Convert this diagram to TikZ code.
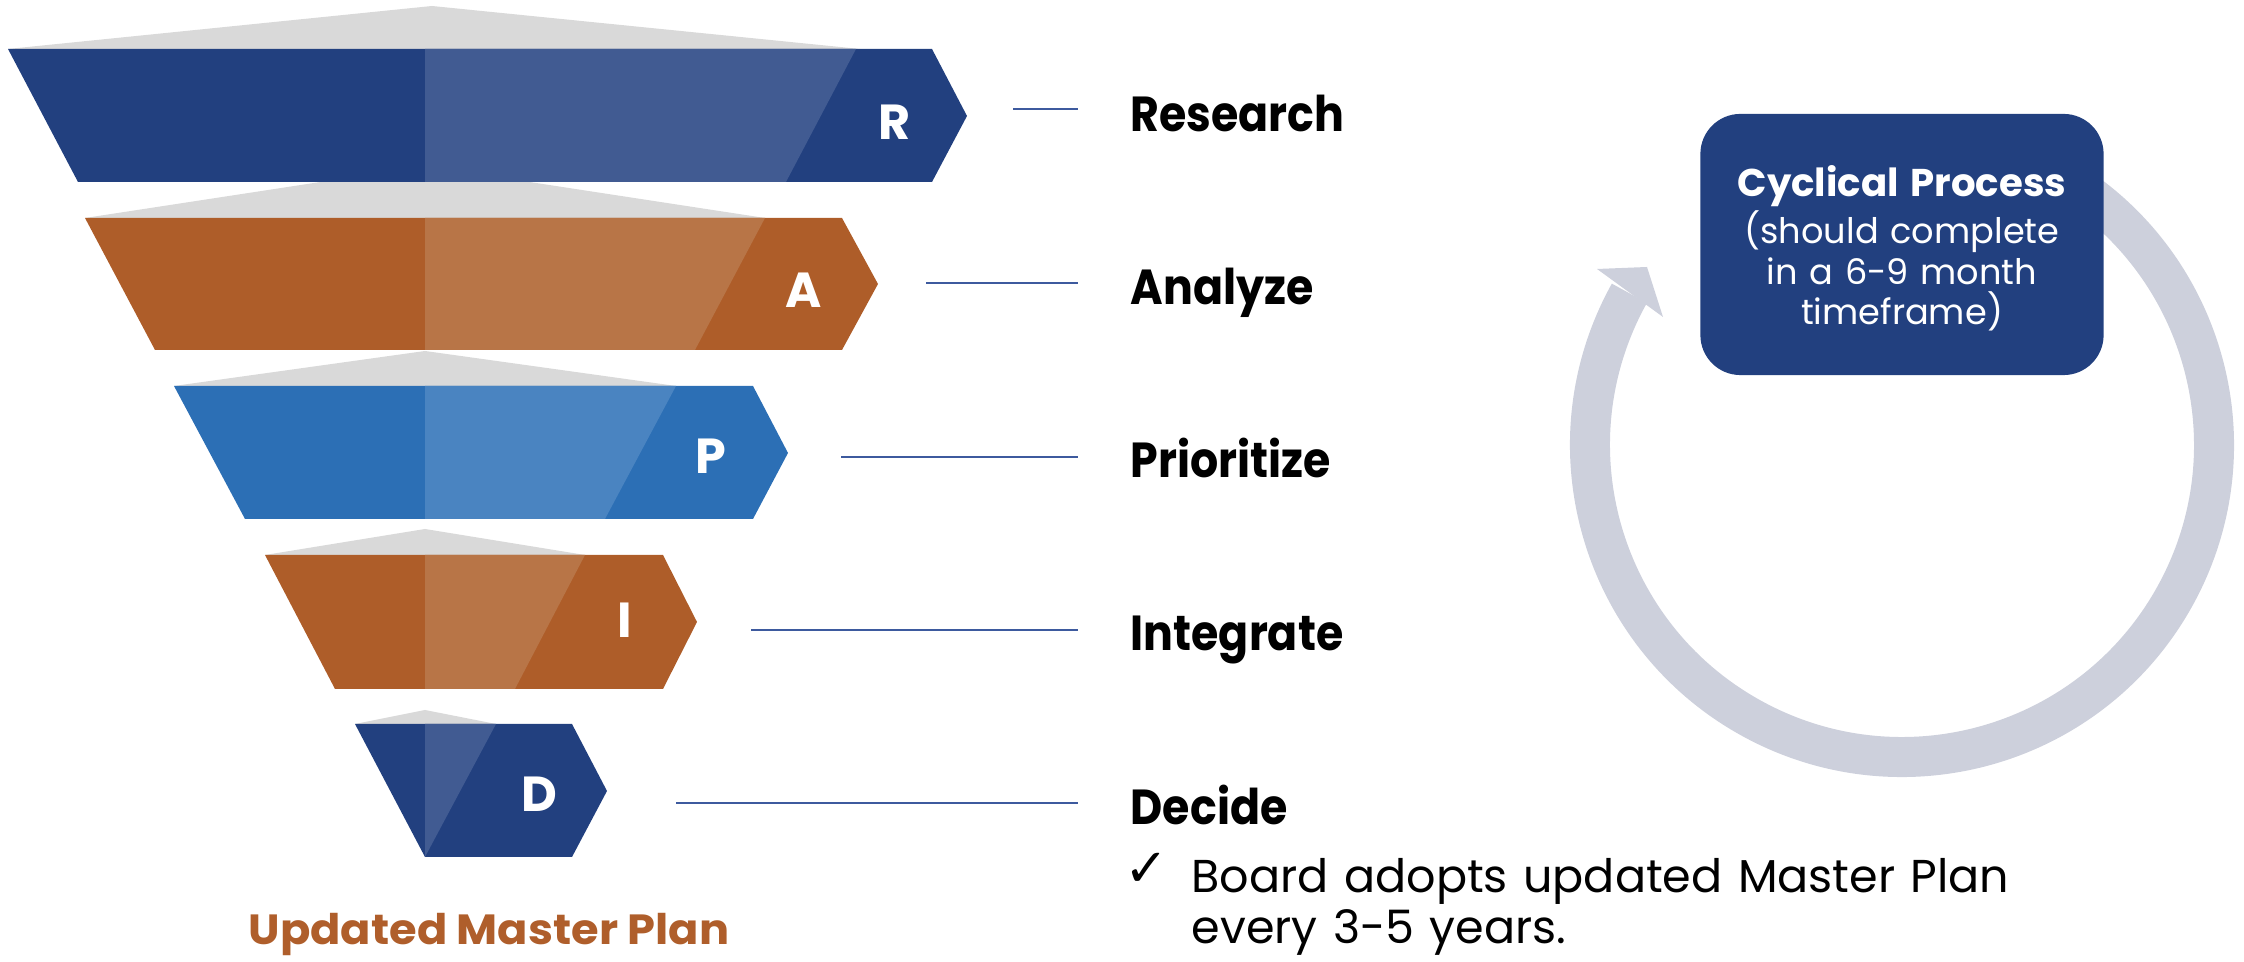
\documentclass[tikz,border=0pt]{standalone}
\usepackage{fontspec}
\setmainfont{Poppins}
\newfontfamily\labfont{Poppins}[FakeStretch=0.9]
\newfontfamily\titlefont{Poppins}[FakeStretch=1.06]
\newfontfamily\symfont{DejaVu Sans}
\definecolor{dblue}{HTML}{22407F}
\definecolor{dblueL}{HTML}{415B92}
\definecolor{orng}{HTML}{AE5D29}
\definecolor{orngL}{HTML}{B87547}
\definecolor{mblue}{HTML}{2C6FB5}
\definecolor{mblueL}{HTML}{4A84C1}
\definecolor{tri}{HTML}{D9D9D9}
\definecolor{ringc}{HTML}{CDD0DC}
\definecolor{conc}{HTML}{3D5A9E}
\definecolor{titlec}{HTML}{AF5E2B}
\begin{document}
\begin{tikzpicture}[x=0.01cm,y=-0.01cm,
  lab/.style={anchor=base west,inner sep=0pt,font=\labfont\fontsize{14}{16}\selectfont\bfseries,text=black},
  let/.style={anchor=base,inner sep=0pt,font=\fontsize{14}{16}\selectfont\bfseries,text=white},
  conn/.style={draw=conc,line width=0.6pt},
  ring/.style={draw=ringc,line width=0.4cm},
  box/.style={fill=dblue,rounded corners=0.4cm,minimum width=4.03cm,minimum height=2.61cm,inner sep=0pt}]
\useasboundingbox (0,0) rectangle (2244,962);
% gray triangles
\fill[tri] (8,49) -- (432,6) -- (860,49) -- cycle;
\fill[tri] (85,218) -- (425,166) -- (765,218) -- cycle;
\fill[tri] (174,386) -- (425,351) -- (676,386) -- cycle;
\fill[tri] (265,555) -- (425,529) -- (585,555) -- cycle;
\fill[tri] (355,724) -- (425,710) -- (496,724) -- cycle;
% R
\fill[dblue] (8,49) -- (932,49) -- (967,116) -- (932,182) -- (78,182) -- cycle;
\fill[dblueL] (425,49) -- (856,49) -- (786,182) -- (425,182) -- cycle;
% A
\fill[orng] (85,218) -- (842,218) -- (878,284) -- (842,350) -- (155,350) -- cycle;
\fill[orngL] (425,218) -- (765,218) -- (695,350) -- (425,350) -- cycle;
% P
\fill[mblue] (174,386) -- (753,386) -- (788,453) -- (753,519) -- (245,519) -- cycle;
\fill[mblueL] (425,386) -- (676,386) -- (605,519) -- (425,519) -- cycle;
% I
\fill[orng] (265,555) -- (663,555) -- (697,622) -- (663,689) -- (335,689) -- cycle;
\fill[orngL] (425,555) -- (585,555) -- (515,689) -- (425,689) -- cycle;
% D
\fill[dblue] (355,724) -- (572,724) -- (607,791) -- (572,857) -- (425,857) -- cycle;
\fill[dblueL] (425,724) -- (496,724) -- (425,857) -- cycle;
% letters
\node[let] (lR) at (895,140) {R};
\node[let] (lA) at (804,308) {A};
\node[let] (lP) at (711,474) {P};
\node[let] (lI) at (625,638) {I};
\node[let] (lD) at (539,812) {D};
% labels
\node[lab] (tR) at (1130,132) {Research};
\node[lab] (tA) at (1130,305) {Analyze};
\node[lab] (tP) at (1130,478) {Prioritize};
\node[lab] (tI) at (1130,651) {Integrate};
\node[lab] (tD) at (1130,825) {Decide};
% connectors
\coordinate (cR1) at (1013,109); \coordinate (cR2) at (1078,109);
\coordinate (cA1) at (926,283);  \coordinate (cA2) at (1078,283);
\coordinate (cP1) at (841,457);  \coordinate (cP2) at (1078,457);
\coordinate (cI1) at (751,630);  \coordinate (cI2) at (1078,630);
\coordinate (cD1) at (676,803);  \coordinate (cD2) at (1078,803);
\draw[conn] (cR1) -- (cR2);
\draw[conn] (cA1) -- (cA2);
\draw[conn] (cP1) -- (cP2);
\draw[conn] (cI1) -- (cI2);
\draw[conn] (cD1) -- (cD2);
% bullet text
\node[anchor=base,inner sep=0pt,font=\symfont\fontsize{15}{17}\selectfont] (chk) at (1147,887) {✓};
\node[anchor=base west,inner sep=0pt,text width=9cm,align=left,font=\fontsize{13.1}{14.23}\selectfont] (board) at (1191,893) {Board adopts updated Master Plan\\every 3-5 years.};
% title
\node[anchor=base,inner sep=0pt,font=\titlefont\fontsize{12}{14}\selectfont\bfseries,text=titlec] (title) at (489,945) {Updated Master Plan};
% ring arrow
\coordinate (rc) at (1902,445);
\draw[ring] (rc) ++(209.1:312) arc[start angle=209.1,end angle=-60,radius=312];
\fill[ringc] (1597,269) -- (1647,267) -- (1663,317) -- cycle;
% box
\node[box] (cp) at (1902,244.5) {};
\node[anchor=base,inner sep=0pt,text width=4cm,align=center,text=white,font=\fontsize{10}{11.5}\selectfont] (cpt) at (1902,197) {{\fontsize{11}{11.5}\selectfont\bfseries Cyclical Process}\\(should complete\\in a 6-9 month\\timeframe)};
\end{tikzpicture}
\end{document}
